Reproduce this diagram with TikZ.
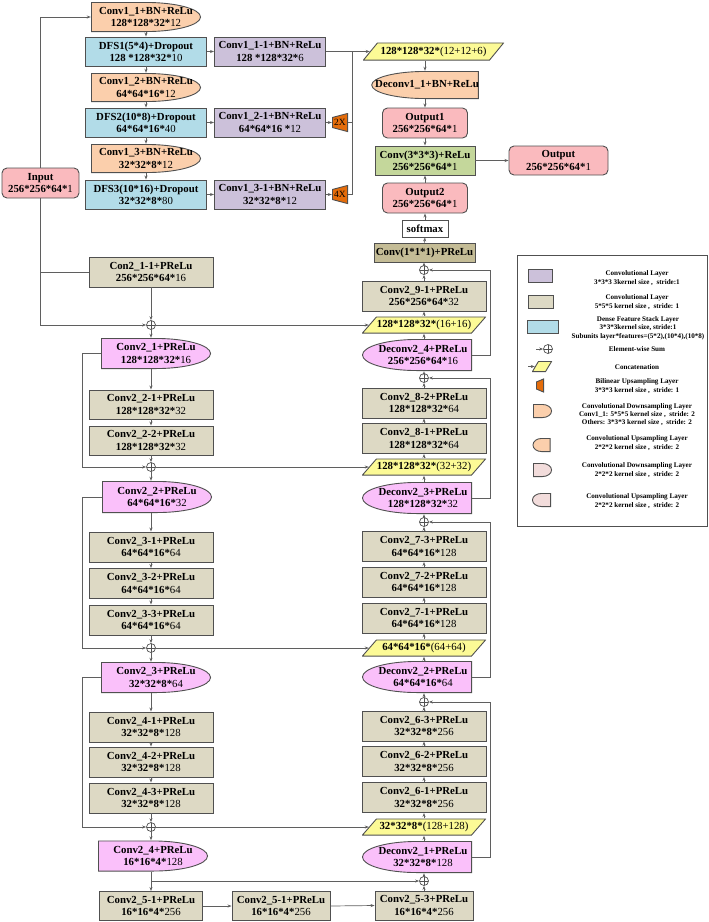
\documentclass[tikz,border=0pt]{standalone}
\usepackage{fontspec}
\setmainfont{Liberation Serif}
\usetikzlibrary{arrows.meta,calc}

\definecolor{edge}{RGB}{80,80,80}
\definecolor{wire}{RGB}{95,95,95}
\definecolor{peach}{RGB}{251,207,172}
\definecolor{dfsblue}{RGB}{178,220,232}
\definecolor{convpurple}{RGB}{204,193,218}
\definecolor{convtan}{RGB}{221,217,196}
\definecolor{darktan}{RGB}{196,188,150}
\definecolor{outpink}{RGB}{250,186,190}
\definecolor{convgreen}{RGB}{196,215,155}
\definecolor{mauve}{RGB}{250,192,250}
\definecolor{catyellow}{RGB}{252,250,150}
\definecolor{uporange}{RGB}{228,108,10}
\definecolor{legpink}{RGB}{242,220,219}

\newcommand{\nf}[1]{{\mdseries #1}}

% shapes drawn inside the node box
\tikzset{
  dsh/.style={path picture={
    \draw[fill=#1, draw=edge, line width=0.9pt]
      let \p1=($(path picture bounding box.south west)+(0.45pt,0.45pt)$),
          \p2=($(path picture bounding box.north east)-(0.45pt,0.45pt)$) in
      (\x1,\y1) -- (\x1,\y2) -- ({0.5*\x1+0.5*\x2},\y2)
      arc[start angle=90, end angle=-90, x radius={0.5*\x2-0.5*\x1}, y radius={0.5*\y2-0.5*\y1}] -- cycle;}},
  ush/.style={path picture={
    \draw[fill=#1, draw=edge, line width=0.9pt]
      let \p1=($(path picture bounding box.south west)+(0.45pt,0.45pt)$),
          \p2=($(path picture bounding box.north east)-(0.45pt,0.45pt)$) in
      (\x2,\y1) -- (\x2,\y2) -- ({0.5*\x1+0.5*\x2},\y2)
      arc[start angle=90, end angle=270, x radius={0.5*\x2-0.5*\x1}, y radius={0.5*\y2-0.5*\y1}] -- cycle;}},
  psh/.style={path picture={
    \draw[fill=catyellow, draw=edge, line width=0.9pt]
      let \p1=($(path picture bounding box.south west)+(0.45pt,0.45pt)$),
          \p2=($(path picture bounding box.north east)-(0.45pt,0.45pt)$) in
      (\x1,\y1) -- ({\x1+#1},\y2) -- (\x2,\y2) -- ({\x2-#1},\y1) -- cycle;}},
  tsh/.style={path picture={
    \draw[fill=uporange, draw=edge, line width=0.9pt]
      let \p1=($(path picture bounding box.south west)+(0.45pt,0.45pt)$),
          \p2=($(path picture bounding box.north east)-(0.45pt,0.45pt)$) in
      (\x1,{\y1+#1}) -- (\x1,{\y2-#1}) -- (\x2,\y2) -- (\x2,\y1) -- cycle;}},
  sumnode/.style={circle, draw=edge, line width=0.7pt, fill=white, minimum size=9pt, inner sep=0pt,
    path picture={\draw[edge, line width=0.6pt] (path picture bounding box.north) -- (path picture bounding box.south)
      (path picture bounding box.west) -- (path picture bounding box.east);}}
}

\begin{document}
\begin{tikzpicture}[x=1pt, y=-1pt,
  txt/.style={align=center, inner sep=0pt, font=\fontsize{10.8}{12.3}\selectfont\bfseries},
  box/.style={txt, rectangle, draw=edge, line width=0.9pt, minimum width=124pt, minimum height=30pt},
  dfs/.style={box, fill=dfsblue, minimum width=121pt, minimum height=29pt},
  pconv/.style={box, fill=convpurple, minimum width=111pt, minimum height=29pt},
  tconv/.style={box, fill=convtan},
  rbox/.style={box, fill=outpink, rounded corners=5pt, minimum width=85pt},
  dsamp/.style={txt, minimum width=110pt, minimum height=31pt, dsh=#1},
  usamp/.style={txt, minimum width=110pt, minimum height=32pt, ush=#1},
  cat/.style={txt, minimum width=124pt, minimum height=17pt, psh=14pt},
  bil/.style={inner sep=0pt, minimum width=16pt, minimum height=19pt, tsh=4pt, font=\fontsize{9.5}{9.5}\selectfont},
  ltxt/.style={align=center, inner sep=0pt, font=\fontsize{7.1}{8.3}\selectfont\bfseries},
  arrow/.style={->, >={Stealth[length=4pt,width=3pt]}, draw=wire, line width=0.7pt},
  wire/.style={draw=wire, line width=0.7pt}
]
  \useasboundingbox (0,0) rectangle (709,922);

  % Encoder 1 with dense feature stacks
  \node[rbox, minimum width=77pt] (input) at (40.5,183) {Input\\256*256*64*\nf{1}};
  \node[dsamp=peach, minimum height=30pt] (c11) at (146,17) {Conv1\_1+BN+ReLu\\128*128*32*\nf{12}};
  \node[dfs] (dfs1) at (146,51.5) {DFS1(5*4)+Dropout\\128 *128*32*\nf{10}};
  \node[pconv] (c111) at (270,51.5) {Conv1\_1-1+BN+ReLu\\128 *128*32*\nf{6}};
  \node[dsamp=peach, minimum height=29pt] (c12) at (146,87.5) {Conv1\_2+BN+ReLu\\64*64*16*\nf{12}};
  \node[dfs] (dfs2) at (146,122.5) {DFS2(10*8)+Dropout\\64*64*16*\nf{40}};
  \node[pconv] (c121) at (270,122.5) {Conv1\_2-1+BN+ReLu\\64*64*16 *\nf{12}};
  \node[bil] (up2) at (340,122.5) {2X};
  \node[dsamp=peach, minimum height=29pt] (c13) at (146,158.5) {Conv1\_3+BN+ReLu\\32*32*8*\nf{12}};
  \node[dfs] (dfs3) at (146,194.5) {DFS3(10*16)+Dropout\\32*32*8*\nf{80}};
  \node[pconv] (c131) at (270,194.5) {Conv1\_3-1+BN+ReLu\\32*32*8*\nf{12}};
  \node[bil] (up4) at (340,194.5) {4X};
  \coordinate (join) at (352,51.5);

  % Decoder 1 and outputs
  \node[cat, minimum width=141pt, minimum height=18pt] (cat1) at (433.5,51.5) {128*128*32*\nf{(12+12+6)}};
  \node[usamp=peach, minimum width=107pt, minimum height=28pt] (dc11) at (425,85) {\hspace*{4pt}Deconv1\_1+BN+ReLu};
  \node[rbox] (out1) at (425,123) {Output1\\256*256*64*\nf{1}};
  \node[box, fill=convgreen, minimum width=100pt, minimum height=29pt] (c333) at (425,160.5) {Conv(3*3*3)+ReLu\\256*256*64*\nf{1}};
  \node[rbox, minimum width=99pt, minimum height=29pt] (out) at (558.5,160.5) {Output\\256*256*64*\nf{1}};
  \node[rbox] (out2) at (425,198) {Output2\\256*256*64*\nf{1}};
  \node[box, fill=white, minimum width=46pt, minimum height=17pt] (smax) at (425,228.5) {softmax};
  \node[box, fill=darktan, minimum width=101pt, minimum height=19pt] (c1x1) at (424.5,252.5) {Conv(1*1*1)+PReLu};

  % Encoder 2
  \node[tconv] (c211) at (151,272) {Con2\_1-1+PReLu\\256*256*64*\nf{16}};
  \node[sumnode] (s1) at (151,325) {};
  \node[dsamp=mauve] (cv21) at (156,353.5) {Conv2\_1+PReLu\\128*128*32*\nf{16}};
  \node[tconv, minimum height=29pt] (c221) at (151,404.5) {Conv2\_2-1+PReLu\\128*128*32*\nf{32}};
  \node[tconv, minimum height=29pt] (c222) at (151,440.5) {Conv2\_2-2+PReLu\\128*128*32*\nf{32}};
  \node[sumnode] (s2) at (151,467) {};
  \node[dsamp=mauve, minimum height=32pt] (cv22) at (157,497) {Conv2\_2+PReLu\\64*64*16*\nf{32}};
  \node[tconv] (c231) at (151,547) {Conv2\_3-1+PReLu\\64*64*16*\nf{64}};
  \node[tconv] (c232) at (151,583.5) {Conv2\_3-2+PReLu\\64*64*16*\nf{64}};
  \node[tconv] (c233) at (151,620) {Conv2\_3-3+PReLu\\64*64*16*\nf{64}};
  \node[sumnode] (s3) at (151,648) {};
  \node[dsamp=mauve] (cv23) at (156,677.5) {Conv2\_3+PReLu\\32*32*8*\nf{64}};
  \node[tconv] (c241) at (151,727) {Conv2\_4-1+PReLu\\32*32*8*\nf{128}};
  \node[tconv] (c242) at (151,762) {Conv2\_4-2+PReLu\\32*32*8*\nf{128}};
  \node[tconv] (c243) at (151,798) {Conv2\_4-3+PReLu\\32*32*8*\nf{128}};
  \node[sumnode] (s4) at (151,827) {};
  \node[dsamp=mauve] (cv24) at (153,856) {Conv2\_4+PReLu\\16*16*4*\nf{128}};
  \node[tconv, minimum width=103pt, minimum height=29pt] (c251) at (151,906) {Conv2\_5-1+PReLu\\16*16*4*\nf{256}};
  \node[tconv, minimum width=98pt, minimum height=29pt] (c252) at (281,906) {Conv2\_5-1+PReLu\\16*16*4*\nf{256}};

  % Decoder 2
  \node[tconv, minimum width=98pt, minimum height=29pt] (c253) at (424,905.5) {Conv2\_5-3+PReLu\\16*16*4*\nf{256}};
  \node[sumnode] (s5) at (424,881) {};
  \node[usamp=mauve] (dc21) at (417,857) {\hspace*{12pt}Deconv2\_1+PReLu\\\hspace*{12pt}32*32*8*\nf{128}};
  \node[cat] (cat5) at (424,827) {32*32*8*\nf{(128+128)}};
  \node[tconv] (c261) at (424,797.5) {Conv2\_6-1+PReLu\\32*32*8*\nf{256}};
  \node[tconv] (c262) at (424,761.5) {Conv2\_6-2+PReLu\\32*32*8*\nf{256}};
  \node[tconv] (c263) at (424,726) {Conv2\_6-3+PReLu\\32*32*8*\nf{256}};
  \node[sumnode] (s6) at (424,702) {};
  \node[usamp=mauve] (dc22) at (417,677) {\hspace*{12pt}Deconv2\_2+PReLu\\\hspace*{12pt}64*64*16*\nf{64}};
  \node[cat] (cat4) at (424,648) {64*64*16*\nf{(64+64)}};
  \node[tconv] (c271) at (424,618) {Conv2\_7-1+PReLu\\64*64*16*\nf{128}};
  \node[tconv] (c272) at (424,582) {Conv2\_7-2+PReLu\\64*64*16*\nf{128}};
  \node[tconv] (c273) at (424,546.5) {Conv2\_7-3+PReLu\\64*64*16*\nf{128}};
  \node[sumnode] (s7) at (424,522) {};
  \node[usamp=mauve] (dc23) at (417,498) {\hspace*{12pt}Deconv2\_3+PReLu\\\hspace*{12pt}128*128*32*\nf{32}};
  \node[cat] (cat3) at (424,467) {128*128*32*\nf{(32+32)}};
  \node[tconv] (c281) at (424,438.5) {Conv2\_8-1+PReLu\\128*128*32*\nf{64}};
  \node[tconv] (c282) at (424,403) {Conv2\_8-2+PReLu\\128*128*32*\nf{64}};
  \node[sumnode] (s8) at (424,378) {};
  \node[usamp=mauve] (dc24) at (417,355) {\hspace*{12pt}Deconv2\_4+PReLu\\\hspace*{12pt}256*256*64*\nf{16}};
  \node[cat] (cat2) at (424,325) {128*128*32*\nf{(16+16)}};
  \node[tconv] (c291) at (424,296) {Conv2\_9-1+PReLu\\256*256*64*\nf{32}};
  \node[sumnode] (s9) at (424,270) {};

  \coordinate (lk) at (82,0);
  \coordinate (rk) at (490,0);

  % Encoder 1 arrows
  \draw[arrow] (input.north) |- (c11.west);
  \draw[arrow] (c11.south) -- (dfs1.north);
  \draw[arrow] (dfs1.south) -- (c12.north);
  \draw[arrow] (c12.south) -- (dfs2.north);
  \draw[arrow] (dfs2.south) -- (c13.north);
  \draw[arrow] (c13.south) -- (dfs3.north);
  \draw[arrow] (dfs1.east) -- (c111.west);
  \draw[arrow] (dfs2.east) -- (c121.west);
  \draw[arrow] (dfs3.east) -- (c131.west);
  \draw[arrow] (c121.east) -- (up2.west);
  \draw[arrow] (c131.east) -- (up4.west);
  \draw[wire] (up2.east) -- (up2.east -| join);
  \draw[wire] (up4.east) -| (join);
  \draw[arrow] (c111.east) -- ([xshift=7pt]cat1.west);

  % Decoder 1 arrows
  \draw[arrow] (cat1.south -| dc11) -- (dc11.north);
  \draw[arrow] (dc11.south) -- (out1.north);
  \draw[arrow] (out1.south) -- (c333.north);
  \draw[arrow] (out2.north) -- (c333.south);
  \draw[arrow] (c333.east) -- (out.west);
  \draw[arrow] (smax.north) -- (out2.south);
  \draw[arrow] (c1x1.north) -- (smax.south);
  \draw[arrow] (s9.north) -- (s9 |- c1x1.south);

  % Encoder 2 arrows
  \draw[wire] (input.south |- c211.west) -- (c211.west);
  \draw[arrow] (input.south) |- (s1.west);
  \draw[arrow] (c211.south) -- (s1.north);
  \draw[arrow] (s1.east) -- ([xshift=7pt]cat2.west);
  \draw[arrow] (s1.south) -- (s1 |- cv21.north);
  \draw[arrow] (cv21.south -| c221) -- (c221.north);
  \draw[arrow] (c221.south) -- (c222.north);
  \draw[arrow] (c222.south) -- (s2.north);
  \draw[arrow] (cv21.west) -- (cv21.west -| lk) |- (s2.west);
  \draw[arrow] (s2.east) -- ([xshift=7pt]cat3.west);
  \draw[arrow] (s2.south) -- (s2 |- cv22.north);
  \draw[arrow] (cv22.south -| c231) -- (c231.north);
  \draw[arrow] (c231.south) -- (c232.north);
  \draw[arrow] (c232.south) -- (c233.north);
  \draw[arrow] (c233.south) -- (s3.north);
  \draw[arrow] (cv22.west) -- (cv22.west -| lk) |- (s3.west);
  \draw[arrow] (s3.east) -- ([xshift=7pt]cat4.west);
  \draw[arrow] (s3.south) -- (s3 |- cv23.north);
  \draw[arrow] (cv23.south -| c241) -- (c241.north);
  \draw[arrow] (c241.south) -- (c242.north);
  \draw[arrow] (c242.south) -- (c243.north);
  \draw[arrow] (c243.south) -- (s4.north);
  \draw[arrow] (cv23.west) -- (cv23.west -| lk) |- (s4.west);
  \draw[arrow] (s4.east) -- ([xshift=7pt]cat5.west);
  \draw[arrow] (s4.south) -- (s4 |- cv24.north);
  \draw[arrow] (cv24.south -| c251) -- (c251.north);
  \draw[arrow] (c251.north |- s5) -- (s5.west);
  \draw[arrow] (c251.east) -- (c252.west);
  \draw[arrow] (c252.east) -- (c253.west);

  % Decoder 2 arrows
  \draw[arrow] (c253.north) -- (s5.south);
  \draw[arrow] (s5.north) -- (s5 |- dc21.south);
  \draw[arrow] (dc21.north -| cat5) -- (cat5.south);
  \draw[arrow] (cat5.north) -- (c261.south);
  \draw[arrow] (c261.north) -- (c262.south);
  \draw[arrow] (c262.north) -- (c263.south);
  \draw[arrow] (c263.north) -- (s6.south);
  \draw[arrow] (dc21.east) -- (dc21.east -| rk) |- (s6.east);
  \draw[arrow] (s6.north) -- (s6 |- dc22.south);
  \draw[arrow] (dc22.north -| cat4) -- (cat4.south);
  \draw[arrow] (cat4.north) -- (c271.south);
  \draw[arrow] (c271.north) -- (c272.south);
  \draw[arrow] (c272.north) -- (c273.south);
  \draw[arrow] (c273.north) -- (s7.south);
  \draw[arrow] (dc22.east) -- (dc22.east -| rk) |- (s7.east);
  \draw[arrow] (s7.north) -- (s7 |- dc23.south);
  \draw[arrow] (dc23.north -| cat3) -- (cat3.south);
  \draw[arrow] (cat3.north) -- (c281.south);
  \draw[arrow] (c281.north) -- (c282.south);
  \draw[arrow] (c282.north) -- (s8.south);
  \draw[arrow] (dc23.east) -- (dc23.east -| rk) |- (s8.east);
  \draw[arrow] (s8.north) -- (s8 |- dc24.south);
  \draw[arrow] (dc24.north -| cat2) -- (cat2.south);
  \draw[arrow] (cat2.north) -- (c291.south);
  \draw[arrow] (c291.north) -- (s9.south);
  \draw[arrow] (dc24.east) -- (dc24.east -| rk) |- (s9.east);

  % Legend
  \node[draw=edge, line width=0.8pt, inner sep=0pt, minimum width=190pt, minimum height=271pt] (legend) at (612,390.5) {};
  \node[pconv, minimum width=24pt, minimum height=13pt] (lg1) at (540,275.5) {};
  \node[ltxt] (lt1) at (637,278) {Convolutional Layer\\3*3*3 3kernel size ,\ \ stride:1};
  \node[tconv, minimum width=25pt, minimum height=13pt] (lg2) at (540.5,301.5) {};
  \node[ltxt] (lt2) at (637,302) {Convolutional Layer\\5*5*5 kernel size ,\ \ stride: 1};
  \node[dfs, minimum width=31pt, minimum height=13pt] (lg3) at (542.5,326.5) {};
  \node[ltxt] (lt3) at (638,328) {Dense Feature Stack Layer\\3*3*3kernel size, stride:1\\Subunits layer*features=(5*2),(10*4),(10*8)};
  \node[sumnode] (lg4) at (548,349) {};
  \coordinate (lg4a) at (536,349);
  \draw[arrow] (lg4a) -- (lg4.west);
  \node[ltxt] (lt4) at (637,349) {Element-wise Sum};
  \node[txt, minimum width=20pt, minimum height=11pt, psh=6pt] (lg5) at (542,366.5) {};
  \coordinate (lg5a) at (528,366.5);
  \draw[arrow] (lg5a) -- ([xshift=3pt]lg5.west);
  \node[ltxt] (lt5) at (637,367) {Concatenation};
  \node[inner sep=0pt, minimum width=8pt, minimum height=14pt, tsh=3pt] (lg6) at (540,385.5) {};
  \node[ltxt] (lt6) at (637,386) {Bilinear Upsampling Layer\\3*3*3 kernel size ,\ \ stride: 1};
  \node[dsamp=peach, minimum width=19pt, minimum height=14pt] (lg7) at (542.5,411) {};
  \node[ltxt] (lt7) at (637,414.5) {Convolutional Downsampling Layer\\Conv1\_1: 5*5*5 kernel size ,\ \ stride: 2\\Others: 3*3*3 kernel size ,\ \ stride: 2};
  \node[usamp=peach, minimum width=18pt, minimum height=14pt] (lg8) at (541.5,445) {};
  \node[ltxt] (lt8) at (637,443) {Convolutional Upsampling Layer\\2*2*2 kernel size ,\ \ stride: 2};
  \node[dsamp=legpink, minimum width=19pt, minimum height=14pt] (lg9) at (542.5,470) {};
  \node[ltxt] (lt9) at (637,470) {Convolutional Downsampling Layer\\2*2*2 kernel size ,\ \ stride: 2};
  \node[usamp=legpink, minimum width=19pt, minimum height=14pt] (lg10) at (541.5,500) {};
  \node[ltxt] (lt10) at (637,501) {Convolutional Upsampling Layer\\2*2*2 kernel size ,\ \ stride: 2};
\end{tikzpicture}
\end{document}
